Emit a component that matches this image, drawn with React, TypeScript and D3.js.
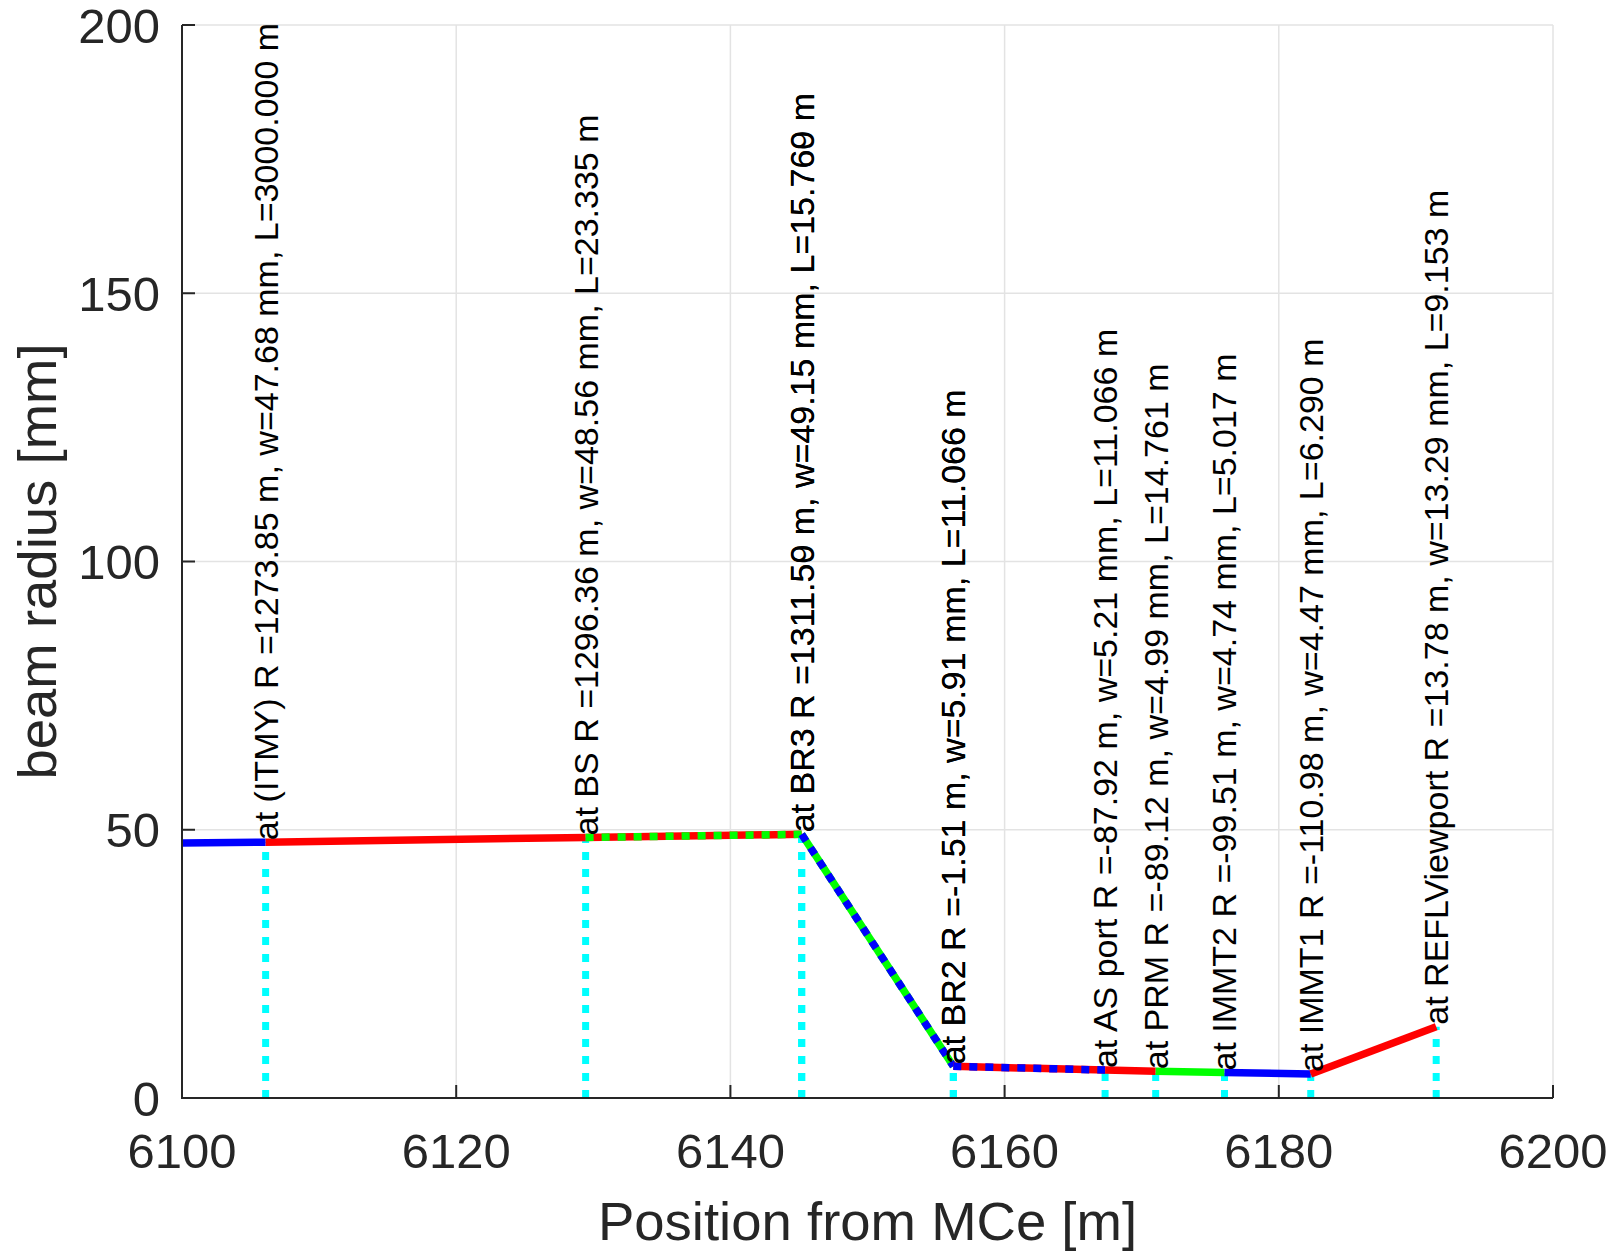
import React, { useEffect } from "react";
import * as d3 from "d3";

// ---- data ----
const xTicks = [6100, 6120, 6140, 6160, 6180, 6200];
const yTicks = [0, 50, 100, 150, 200];

// beam trace vertices (position [m], beam radius [mm])
const beamX = [6100, 6106.1, 6129.44, 6145.2, 6156.26, 6167.33, 6171.02, 6176.04, 6182.33, 6191.48];
const beamW = [47.55, 47.68, 48.56, 49.15, 5.91, 5.21, 4.99, 4.74, 4.47, 13.29];
// colour of each segment and (optional) colour of the overlapping dotted trace
const segColor = ["#0000ff", "#ff0000", "#ff0000", "#00ff00", "#ff0000", "#ff0000", "#00ff00", "#0000ff", "#ff0000"];
const segOverlay = ["", "", "#00ff00", "#0000ff", "#0000ff", "", "", "", ""];

// optical elements
const elementNames = ["(ITMY)", "BS", "BR3", "BR3", "BR2", "BR2", "AS port", "PRM", "IMMT2", "IMMT1", "REFLViewport"];
const elementPos = [6106.1, 6129.44, 6145.2, 6145.2, 6156.26, 6156.26, 6167.33, 6171.02, 6176.04, 6182.33, 6191.48];
const elementR = ["1273.85", "1296.36", "1311.59", "1311.50", "-1.51", "-1.51", "-87.92", "-89.12", "-99.51", "-110.98", "13.78"];
const elementW = [47.68, 48.56, 49.15, 49.15, 5.91, 5.91, 5.21, 4.99, 4.74, 4.47, 13.29];
const elementL = ["3000.000", "23.335", "15.769", "15.760", "11.066", "11.066", "11.066", "14.761", "5.017", "6.290", "9.153"];

const W = 1614;
const H = 1251;
const margin = { left: 182, right: W - 1553, top: 25, bottom: H - 1098 };
const FONT = "'Liberation Sans', Arial, Helvetica, sans-serif";
const AXIS = "#262626";

export default function App() {
  useEffect(() => {
    document.body.style.margin = "0";
  }, []);

  const x = d3.scaleLinear().domain([6100, 6200]).range([margin.left, W - margin.right]);
  const y = d3.scaleLinear().domain([0, 200]).range([H - margin.bottom, margin.top]);

  const segs = segColor.map((c, i) => {
    const path = d3.line<[number, number]>()
      .x((d) => x(d[0]))
      .y((d) => y(d[1]))([
        [beamX[i], beamW[i]],
        [beamX[i + 1], beamW[i + 1]],
      ]) as string;
    return { c, o: segOverlay[i], path };
  });

  const x0 = x(6100), x1 = x(6200), y0 = y(0), y1 = y(200);

  return (
    <svg width={W} height={H} style={{ display: "block", background: "#fff" }} fontFamily={FONT}>
      {/* grid */}
      <g stroke="#e3e3e3" strokeWidth={1.5}>
        {xTicks.map((t) => (
          <line key={"gx" + t} x1={x(t)} x2={x(t)} y1={y0} y2={y1} />
        ))}
        {yTicks.map((t) => (
          <line key={"gy" + t} x1={x0} x2={x1} y1={y(t)} y2={y(t)} />
        ))}
      </g>

      {/* cyan element markers */}
      <g stroke="#00ffff" strokeWidth={7} strokeDasharray="8 9">
        {elementPos.map((p, i) => (
          <line key={"c" + i} x1={x(p)} x2={x(p)} y1={y0} y2={y(elementW[i])} />
        ))}
      </g>

      {/* beam trace */}
      <g fill="none" strokeWidth={7.5}>
        {segs.map((s, i) => (
          <g key={"s" + i}>
            <path d={s.path} stroke={s.c} />
            {s.o && <path d={s.path} stroke={s.o} strokeDasharray="8 8" />}
          </g>
        ))}
      </g>

      {/* axes */}
      <g stroke={AXIS} strokeWidth={2} fill="none">
        <line x1={x0} x2={x0} y1={y0 + 1} y2={y1} />
        <line x1={x0 - 1} x2={x1} y1={y0} y2={y0} />
        {xTicks.map((t) => (
          <line key={"tx" + t} x1={x(t)} x2={x(t)} y1={y0} y2={y0 - 13} />
        ))}
        {yTicks.map((t) => (
          <line key={"ty" + t} x1={x0} x2={x0 + 13} y1={y(t)} y2={y(t)} />
        ))}
      </g>

      {/* tick labels */}
      <g fill={AXIS} fontSize={49}>
        {xTicks.map((t) => (
          <text key={"lx" + t} x={x(t)} y={1168} textAnchor="middle">
            {d3.format("d")(t)}
          </text>
        ))}
        {yTicks.map((t) => (
          <text key={"ly" + t} x={160} y={y(t)} dy="0.36em" textAnchor="end">
            {t}
          </text>
        ))}
      </g>

      {/* axis labels */}
      <text x={(x0 + x1) / 2} y={1240} textAnchor="middle" fontSize={54.5} fill={AXIS}>
        Position from MCe [m]
      </text>
      <text
        transform={`translate(56,${(y0 + y1) / 2}) rotate(-90)`}
        textAnchor="middle"
        fontSize={54.5}
        fill={AXIS}
      >
        beam radius [mm]
      </text>

      {/* element labels */}
      <g fontSize={34} fill="#000">
        {elementNames.map((n, i) => (
          <text
            key={"e" + i}
            transform={`translate(${x(elementPos[i])},${y(elementW[i]) - 2}) rotate(-90)`}
            dy="0.35em"
          >
            {`at ${n} R =${elementR[i]} m, w=${elementW[i].toFixed(2)} mm, L=${elementL[i]} m`}
          </text>
        ))}
      </g>
    </svg>
  );
}
